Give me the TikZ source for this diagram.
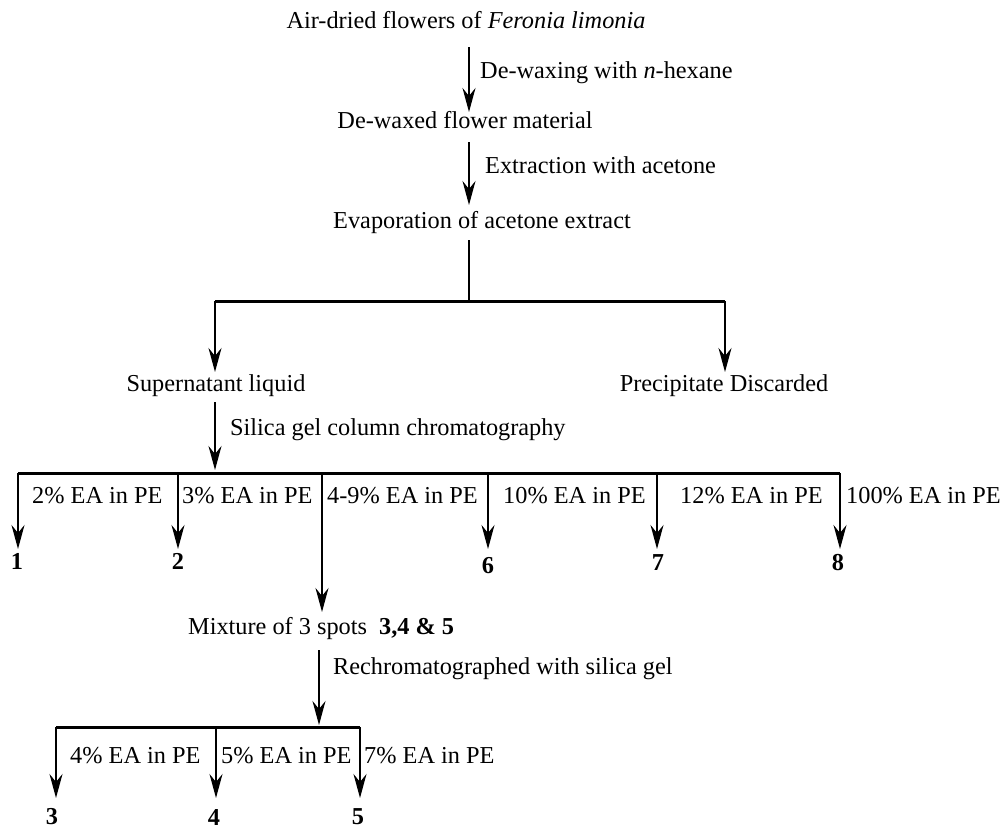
\documentclass[tikz,border=0pt]{standalone}
\usepackage{fontspec}
\setmainfont{Liberation Serif}
\usetikzlibrary{arrows.meta}
\begin{document}
\begin{tikzpicture}[x=1pt,y=-1pt,
  font=\fontsize{24.3}{28}\selectfont,
  txt/.style={inner sep=0pt, anchor=mid},
  lbl/.style={inner sep=0pt, anchor=mid west},
  num/.style={inner sep=0pt, anchor=center, font=\fontsize{24.3}{28}\selectfont\bfseries},
  arr/.style={line width=1.9pt, -{Stealth[length=24pt,width=13pt,inset=8pt]}},
  bar/.style={line width=3pt},
  ln/.style={line width=2.2pt}]
\useasboundingbox[fill=white] (0,0) rectangle (1000,830);

% --- top chain ---
\node[txt] (title) at (466,26) {Air-dried flowers of \textit{Feronia limonia}};
\coordinate (a1s) at (469,47);
\coordinate (a1e) at (469,112);
\draw[arr] (a1s) -- (a1e);
\node[lbl] (l1) at (480,76) {De-waxing with \textit{n}-hexane};

\node[txt] (dewax) at (465,126) {De-waxed flower material};
\coordinate (a2s) at (469,142);
\coordinate (a2e) at (469,205);
\draw[arr] (a2s) -- (a2e);
\node[lbl] (l2) at (485,171) {Extraction with acetone};

\node[txt] (evap) at (482,226) {Evaporation of acetone extract};
\coordinate (e1) at (469,240);
\coordinate (j1) at (469,301);
\coordinate (bl) at (215,301);
\coordinate (br) at (725,301);
\coordinate (blt) at (215,372);
\coordinate (brt) at (725,372);
\draw[ln] (e1) -- (j1);
\draw[bar] (bl) -- (br);
\draw[arr] (bl) -- (blt);
\draw[arr] (br) -- (brt);

\node[txt] (super) at (216,389) {Supernatant liquid};
\node[txt] (precip) at (724,389) {Precipitate Discarded};

\coordinate (s1) at (215,402);
\coordinate (s2) at (215,470);
\draw[arr] (s1) -- (s2);
\node[lbl] (l3) at (230,433) {Silica gel column chromatography};

% --- first column ---
\coordinate (c0) at (18,473);
\coordinate (c9) at (840,473);
\draw[bar] (c0) -- (c9);
\foreach \n/\x in {1/18,2/178,6/488,7/657,8/840}{
  \coordinate (t\n) at (\x,473);
  \coordinate (b\n) at (\x,549);
  \draw[arr] (t\n) -- (b\n);
}
\coordinate (tm) at (322,473);
\coordinate (bm) at (322,612);
\draw[arr] (tm) -- (bm);

\node[lbl] (e2) at (32,501) {2\% EA in PE};
\node[lbl] (e3) at (182,501) {3\% EA in PE};
\node[lbl] (e49) at (327,501) {4-9\% EA in PE};
\node[lbl] (e10) at (503,501) {10\% EA in PE};
\node[lbl] (e12) at (680,501) {12\% EA in PE};
\node[lbl] (e100) at (846,501) {100\% EA in PE};

\node[num] (n1) at (17,561) {1};
\node[num] (n2) at (178,561) {2};
\node[num] (n6) at (488,566) {6};
\node[num] (n7) at (658,563) {7};
\node[num] (n8) at (838,563) {8};

% --- mixture ---
\node[lbl] (mix) at (188,632) {Mixture of 3 spots\ \ \textbf{3,4 \& 5}};
\coordinate (r1) at (319,650);
\coordinate (r2) at (319,725);
\draw[arr] (r1) -- (r2);
\node[lbl] (l4) at (333,672) {Rechromatographed with silica gel};

\coordinate (d0) at (56,727);
\coordinate (d9) at (360,727);
\draw[bar] (d0) -- (d9);
\foreach \n/\x in {3/56,4/216,5/360}{
  \coordinate (u\n) at (\x,727);
  \coordinate (v\n) at (\x,798);
  \draw[arr] (u\n) -- (v\n);
}
\node[lbl] (f4) at (70,761) {4\% EA in PE};
\node[lbl] (f5) at (221,761) {5\% EA in PE};
\node[lbl] (f7) at (364,761) {7\% EA in PE};

\node[num] (n3) at (52,817) {3};
\node[num] (n4) at (214,817) {4};
\node[num] (n5) at (358,817) {5};
\end{tikzpicture}
\end{document}
